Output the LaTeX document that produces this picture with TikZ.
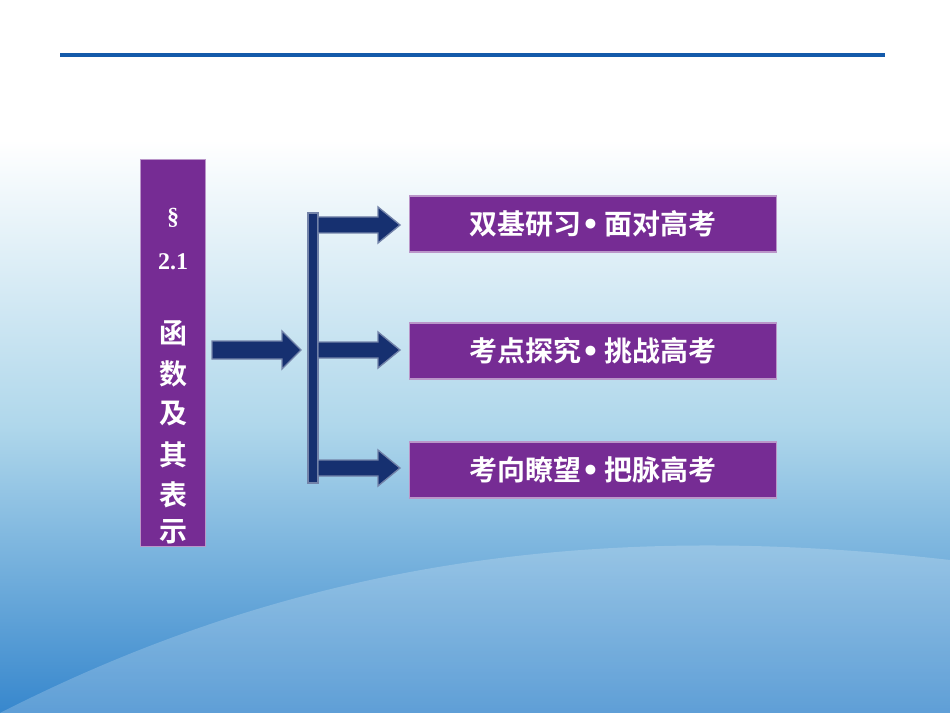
\documentclass[tikz,border=0pt]{standalone}
\usepackage{fontspec}
\newfontfamily\cjk{Noto Sans CJK SC}[BoldFont={Noto Sans CJK SC Bold}]
\setmainfont{Liberation Serif}
\definecolor{pur}{RGB}{118,44,148}
\definecolor{nav}{RGB}{22,48,112}
\begin{document}
\begin{tikzpicture}[x=0.75pt,y=-0.75pt,
 pbox/.style={fill=pur, draw=pur!50!white, line width=1pt},
 ptext/.style={text=white, font=\cjk\bfseries\fontsize{21}{23}\selectfont},
 arr/.style={fill=nav, draw=nav!60!white, line width=1pt}]
\fill[white] (0,0) rectangle (950,141);
\shade[top color=white, bottom color={rgb,255:red,55;green,135;blue,205}, middle color={rgb,255:red,175;green,215;blue,235}] (0,140) rectangle (950,713);
\useasboundingbox (0,0) rectangle (950,713);
\fill[white,opacity=0.2] (0,713) .. controls (300,560) and (600,520) .. (950,560) -- (950,713) -- cycle;
\draw[line width=3pt, color={rgb,255:red,20;green,90;blue,170}] (60,55) -- (885,55);
\node[pbox, minimum width=65*0.75pt, minimum height=387*0.75pt, inner sep=0] (L) at (173,353) {};
\foreach \t/\y in {§/218, 2.1/262}{\node[text=white, font=\bfseries\fontsize{18}{20}\selectfont] at (173,\y) {\t};}
\foreach \t/\y in {函/333, 数/374, 及/414, 其/455, 表/495, 示/532}{\node[ptext] at (173,\y) {\t};}
\node[pbox, minimum width=367*0.75pt, minimum height=56*0.75pt, inner sep=0] (A) at (593,224) {};
\node[ptext] at (A) {双基研习{\fontspec{DejaVu Sans}\bfseries•}\,面对高考};
\node[pbox, minimum width=367*0.75pt, minimum height=56*0.75pt, inner sep=0] (B) at (593,351) {};
\node[ptext] at (B) {考点探究{\fontspec{DejaVu Sans}\bfseries•}\,挑战高考};
\node[pbox, minimum width=367*0.75pt, minimum height=56*0.75pt, inner sep=0] (C) at (593,470) {};
\node[ptext] at (C) {考向瞭望{\fontspec{DejaVu Sans}\bfseries•}\,把脉高考};
\draw[arr] (212,341) -- (282,341) -- (282,331) -- (301,350) -- (282,369) -- (282,359) -- (212,359) -- cycle;
\draw[arr] (308,213) rectangle (318,483);
\foreach \y in {225,350,468}{
\draw[arr] (318,\y-8) -- (378,\y-8) -- (378,\y-18) -- (400,\y) -- (378,\y+18) -- (378,\y+8) -- (318,\y+8) -- cycle;}
\end{tikzpicture}
\end{document}
